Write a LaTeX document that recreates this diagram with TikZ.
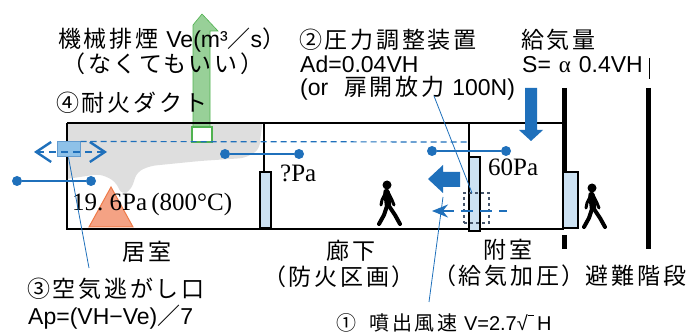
\documentclass[tikz,border=0pt]{standalone}
\usepackage{fontspec}
\setmainfont{Liberation Serif}
\setsansfont{Liberation Sans}
\newfontfamily\jp[LetterSpace=12]{Noto Sans CJK JP}
\usepackage{xcolor}
\usepackage{tikz}
\usetikzlibrary{arrows.meta, positioning, calc}

\definecolor{flowblue}{RGB}{31,112,187}
\definecolor{doorblue}{RGB}{205,226,243}
\definecolor{smokegray}{RGB}{222,222,222}
\definecolor{exhgreen}{RGB}{141,203,141}
\definecolor{exhline}{RGB}{80,178,80}
\definecolor{firefill}{RGB}{244,162,132}
\definecolor{fireline}{RGB}{238,122,72}
\definecolor{ventfill}{RGB}{142,193,232}
\definecolor{damper}{RGB}{68,84,106}

\tikzset{
  wall/.style={line width=1.8pt, draw=black},
  thickwall/.style={line width=5pt, draw=black},
  door/.style={fill=doorblue, draw=black, line width=1.6pt},
  pdot/.style={circle, fill=flowblue, inner sep=0pt, minimum size=10pt},
  pline/.style={flowblue, line width=2.2pt},
  leader/.style={flowblue, line width=0.8pt},
  jtext/.style={font=\jp\fontsize{23}{27}\selectfont, inner sep=0pt},
  ntext/.style={font=\fontsize{25}{30}\selectfont, inner sep=0pt},
  walker/.pic={
    \fill[black] (9,5) circle (4.5pt);
    \draw[black, line width=6.5pt, line cap=round] (8.5,12) -- (10,25);
    \draw[black, line width=3pt, line cap=round, line join=round] (7.5,13) -- (4,20) -- (3,25);
    \draw[black, line width=3pt, line cap=round, line join=round] (10.5,13) -- (14,20) -- (16,25);
    \draw[black, line width=4pt, line cap=round, line join=round] (9,26) -- (6,35) -- (1,44);
    \draw[black, line width=4pt, line cap=round, line join=round] (11,26) -- (17,35) -- (22,44);
  }
}

\begin{document}
\begin{tikzpicture}[x=1pt,y=-1pt,>=Stealth]
    \useasboundingbox (0,0) rectangle (692,336);

    % smoke layer in the room
    \begin{scope}
      \clip (67,123) rectangle (264,229);
      \fill[smokegray, rounded corners=6pt]
        (60,118) -- (263,118) -- (259,150) -- (245,158) -- (200,161)
        -- (150,166) -- (137,172) -- (131,190) -- (122,195) -- (115,181)
        -- (100,174) -- (80,177) -- (60,180) -- cycle;
    \end{scope}

    % exhaust through the duct
    \fill[exhgreen, draw=exhline, line width=0.6pt, fill opacity=0.9]
      (193,127) -- (193,25) -- (202,14) -- (218,31) -- (210,31) -- (210,127) -- cycle;
    \node[draw=exhline, fill=white, line width=2pt, minimum width=20pt,
          minimum height=15pt, inner sep=0pt] (duct) at (201.5,135) {};

    % walls
    \draw[wall] (67,123) -- (564,123);
    \draw[wall] (67,123) -- (67,229) -- (564,229);
    \draw[wall] (264,123) -- (264,172);
    \draw[wall] (469,123) -- (469,157);
    \draw[thickwall] (564,88) -- (564,172);
    \draw[thickwall] (564,235) -- (564,249);
    \draw[thickwall] (648,88) -- (648,249);
    \draw[line width=0.8pt] (649,58) -- (649,79);

    % doors
    \draw[door] (260,172) rectangle (271,228);
    \draw[door] (469,157) rectangle (480,231);
    \draw[door] (563,172) rectangle (578,228);

    % fire
    \filldraw[fill=firefill, draw=fireline, line width=1pt]
      (89,227) -- (133,227) -- (111,187) -- cycle;

    % pressure line and relief opening
    \node[fill=ventfill, draw=flowblue!70, line width=1pt, minimum width=23pt,
          minimum height=15pt, inner sep=0pt] (vent) at (68.5,149.5) {};
    \coordinate (lobbyW) at (468,142);
    \draw[flowblue, line width=1.2pt, dash pattern=on 6pt off 4pt]
      (vent.north east) -- (lobbyW);
    \coordinate (ventL) at (34,152);
    \coordinate (ventR) at (107,152);
    \draw[flowblue, line width=2.4pt, dash pattern=on 7pt off 5pt,
          {Straight Barb[length=15pt,width=20pt]}-{Straight Barb[length=15pt,width=20pt]}]
      (ventL) -- (ventR);

    % pressure differences
    \node[pdot] (pOut) at (17,181) {};
    \node[pdot] (pRoom) at (91,181) {};
    \draw[pline] (pOut) -- (pRoom);
    \node[pdot] (pRoomB) at (225,154) {};
    \node[pdot] (pCorr) at (299,154) {};
    \draw[pline] (pRoomB) -- (pCorr);
    \node[pdot] (pCorrB) at (432,151) {};
    \node[pdot] (pLobby) at (506,151) {};
    \draw[pline] (pCorrB) -- (pLobby);

    % supply air and outflow
    \fill[flowblue] (525,88) -- (537,88) -- (537,130) -- (543,130)
      -- (531,141) -- (519,130) -- (525,130) -- cycle;
    \fill[flowblue] (428,179) -- (443,165) -- (443,172) -- (460,172)
      -- (460,187) -- (443,187) -- (443,193) -- cycle;

    % pressure damper
    \node[draw=damper, dashed, line width=1.6pt, minimum width=25pt,
          minimum height=30pt, inner sep=0pt] (dmp) at (476.5,208) {};
    \coordinate (dmpTip) at (432,211);
    \coordinate (dmpEnd) at (507,211);
    \draw[flowblue, line width=1.8pt, dash pattern=on 12pt off 7pt,
          {Stealth[length=16pt,width=13pt]}-] (dmpTip) -- (dmpEnd);

    % people
    \pic at (378,180) {walker};
    \pic at (583,183) {walker};

    % labels
    \node[jtext, anchor=west] (exhT) at (58,40) {機械排煙 {\sffamily Ve(m³}／{\sffamily s}）};
    \node[jtext] (exhN) at (163,64) {（なくてもいい）};
    \node[jtext, anchor=west] (ductT) at (56,103) {④耐火ダクト};
    \node[jtext, anchor=west] (regT) at (299,40) {②圧力調整装置};
    \node[jtext, anchor=west] (regA) at (300,64) {\sffamily Ad=0.04VH};
    \node[jtext, anchor=west] (regF) at (300,88) {{\sffamily (or}\ \ 扉開放力 {\sffamily 100N)}};
    \node[jtext, anchor=west] (supT) at (521,40) {給気量};
    \node[jtext, anchor=west] (supS) at (522,65) {{\sffamily S=} {\rmfamily α} {\sffamily 0.4VH}};

    \node[ntext, anchor=west] (pRoomT) at (72,204) {19.\ 6Pa\,(800°C)};
    \node[ntext, anchor=west] (pCorrT) at (280,173) {?Pa};
    \node[ntext, anchor=west] (pLobbyT) at (488,167) {60Pa};

    \node[jtext] (room) at (147,252) {居室};
    \node[jtext] (corr) at (351,251) {廊下};
    \node[jtext] (corrS) at (339,277) {（防火区画）};
    \node[jtext] (lobby) at (508,250) {附室};
    \node[jtext] (lobbyS) at (509,276) {（給気加圧）};
    \node[jtext] (stair) at (636,276) {避難階段};
    \node[jtext, anchor=west] (reliefT) at (27,289) {③空気逃がし口};
    \node[jtext, anchor=west] (reliefA) at (28,317) {{\sffamily Ap=(VH−Ve)}／{\sffamily 7}};
    \node[jtext, font=\jp\fontsize{20}{24}\selectfont, anchor=west] (jetT) at (336,323)
      {①\ \ 噴出風速 {\sffamily V=2.7√\raisebox{0.72em}{\rule{0.3em}{0.05em}}\,H}};

    % leaders
    \coordinate (regP) at (434,96);
    \coordinate (dmpP) at (472,193);
    \draw[leader] (regP) -- (dmpP);
    \coordinate (reliefP) at (89,268);
    \draw[leader] (reliefP) -- (vent.south);
    \coordinate (jetP) at (429,302);
    \coordinate (flowP) at (443,197);
    \draw[leader] (jetP) -- (flowP);
\end{tikzpicture}
\end{document}
